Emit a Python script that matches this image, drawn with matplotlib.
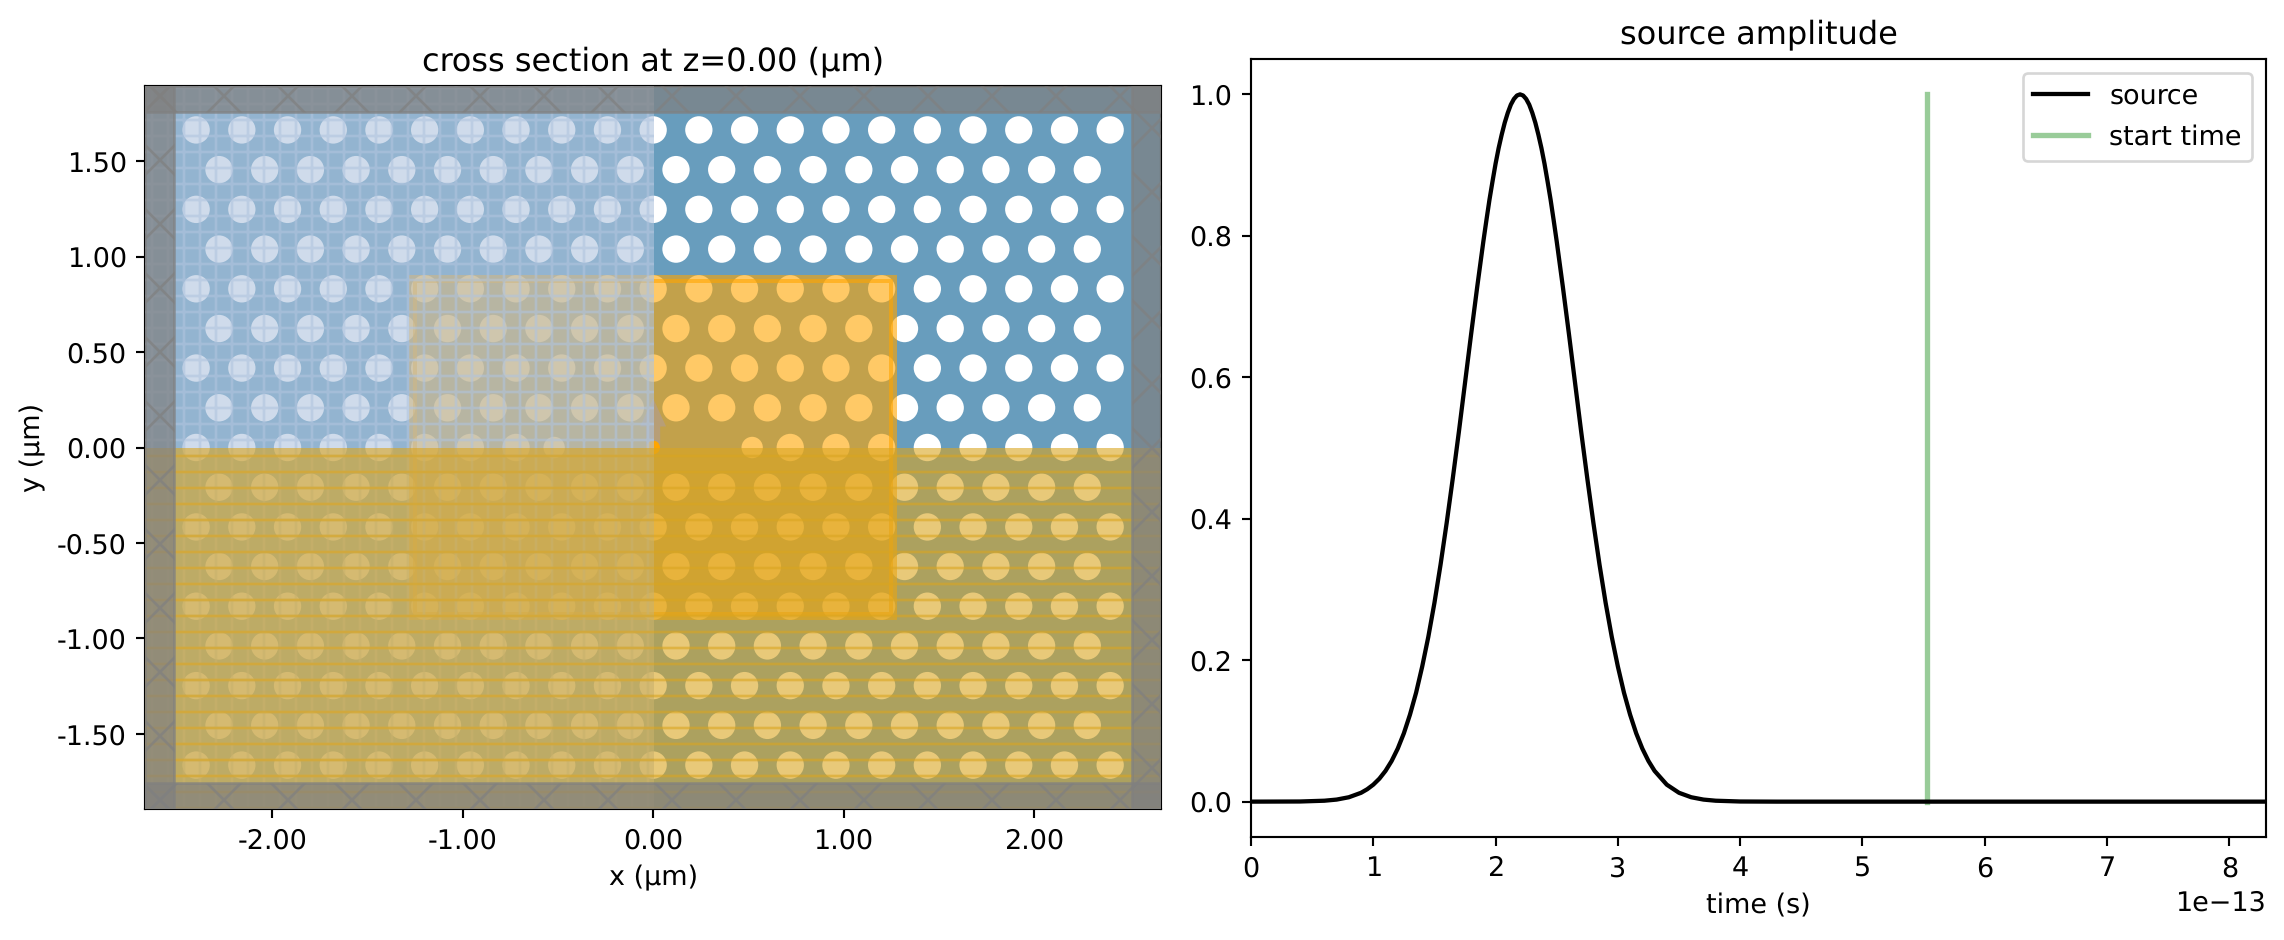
import matplotlib
matplotlib.use('Agg')
import matplotlib.pyplot as plt
from matplotlib.patches import Circle, Rectangle, FancyArrow
from matplotlib.ticker import FormatStrFormatter

W, H = 2284, 940
DPI = 192

plt.rcParams['text.hinting'] = 'no_hinting'
plt.rcParams['text.hinting_factor'] = 1

# photonic crystal lattice, in um
row_y = [1.663, 1.455, 1.247, 1.039, 0.831, 0.623, 0.416, 0.208, 0.0,
         -0.208, -0.416, -0.623, -0.831, -1.039, -1.247, -1.455, -1.663]
even_x = [-2.4, -2.16, -1.92, -1.68, -1.44, -1.2, -0.96, -0.72, -0.48, -0.24, 0.0,
          0.24, 0.48, 0.72, 0.96, 1.2, 1.44, 1.68, 1.92, 2.16, 2.4]
odd_x = [-2.28, -2.04, -1.8, -1.56, -1.32, -1.08, -0.84, -0.6, -0.36, -0.12,
         0.12, 0.36, 0.6, 0.84, 1.08, 1.32, 1.56, 1.8, 2.04, 2.28]
cavity_x = [-2.4, -2.16, -1.92, -1.68, -1.44, -1.2, -0.96, -0.72,
            0.72, 0.96, 1.2, 1.44, 1.68, 1.92, 2.16, 2.4]
small_x = [-0.52, 0.52]
hole_r = 0.0717
small_r = 0.056

sim_x = 2.667
sim_y = 1.893
pml_x = 2.515
pml_y = 1.755
mon_x = 1.26
mon_y = 0.88
sym_edge = 0.006

# source time trace, time in units of 1e-13 s
time = [0.0, 0.4, 0.6, 0.7, 0.8, 0.9, 0.95, 1.0, 1.05, 1.1, 1.15, 1.2, 1.25, 1.3, 1.35, 1.4,
        1.45, 1.5, 1.55, 1.6, 1.65, 1.7, 1.75, 1.8, 1.85, 1.9, 1.925, 1.95, 1.975, 2.0, 2.025,
        2.05, 2.075, 2.1, 2.125, 2.15, 2.175, 2.2, 2.225, 2.25, 2.275, 2.3, 2.325, 2.35, 2.375,
        2.4, 2.425, 2.45, 2.475, 2.5, 2.55, 2.6, 2.65, 2.7, 2.75, 2.8,
        2.85, 2.9, 2.95, 3.0, 3.05, 3.1, 3.15, 3.2, 3.25, 3.3, 3.4, 3.5, 3.6, 3.7,
        3.8, 4.0, 4.3, 8.3]
amp = [0.0, 0.0002, 0.0013, 0.0029, 0.0062, 0.0125, 0.0175, 0.024, 0.0325, 0.0435, 0.0575,
       0.075, 0.0966, 0.123, 0.154, 0.191, 0.233, 0.281, 0.335, 0.394, 0.457, 0.523,
       0.592, 0.661, 0.728, 0.792, 0.822, 0.851, 0.877, 0.902, 0.924, 0.943, 0.96, 0.974,
       0.9855, 0.9935, 0.9984, 1.0, 0.9984, 0.9935, 0.9855, 0.974, 0.96, 0.943, 0.924,
       0.902, 0.877, 0.851, 0.822, 0.792, 0.728, 0.661, 0.592, 0.523, 0.457, 0.394,
       0.335, 0.281, 0.233, 0.191, 0.154, 0.123, 0.0966, 0.075, 0.0575, 0.0435, 0.024,
       0.0125, 0.0062, 0.0029, 0.0013, 0.0002, 0.0, 0.0]
start_time = [5.53, 5.53]
start_amp = [0.0, 1.0]

fig = plt.figure(figsize=(W / DPI, H / DPI), dpi=DPI)


def axes_px(left, top, right, bottom):
    return fig.add_axes([left / W, 1 - bottom / H, (right - left) / W, (bottom - top) / H])


# left panel
ax = axes_px(145.3, 86, 1161, 809)
ax.add_patch(Rectangle((-sim_x, -sim_y), 2 * sim_x, 2 * sim_y, fc='#689DBD', lw=0, zorder=1))
for i, y in enumerate(row_y):
    if y == 0.0:
        xs = cavity_x
    elif i % 2 == 0:
        xs = even_x
    else:
        xs = odd_x
    for x in xs:
        ax.add_patch(Circle((x, y), hole_r, fc='white', lw=0, zorder=1.5))
for x in small_x:
    ax.add_patch(Circle((x, 0.0), small_r, fc='white', lw=0, zorder=1.5))

# monitor
ax.add_patch(Rectangle((-mon_x, -mon_y), 2 * mon_x, 2 * mon_y, fc='orange', ec='orange',
                       alpha=0.6, lw=3, zorder=2))
# source
ax.add_patch(FancyArrow(0, 0, 0, 0.257, width=0.074, head_width=0.136, head_length=0.147,
                        length_includes_head=True, fc='#A79BBA', ec='none', alpha=0.4, zorder=3))
ax.add_patch(Circle((0, 0), 0.036, fc='orange', lw=0, zorder=3))

# symmetry regions
ax.add_patch(Rectangle((-sim_x, -sim_y), sim_x + sym_edge, 2 * sim_y, fc='lightsteelblue', ec='lightsteelblue',
                       alpha=0.6, lw=0, hatch='++', zorder=4))
ax.add_patch(Rectangle((-sim_x, -sim_y), 2 * sim_x, sim_y, fc='goldenrod', ec='goldenrod',
                       alpha=0.6, lw=0, hatch='--', zorder=4.5))

# pml strips
pml_boxes = [(-sim_x, -sim_y, sim_x - pml_x, 2 * sim_y),
             (pml_x, -sim_y, sim_x - pml_x, 2 * sim_y),
             (-sim_x, pml_y, 2 * sim_x, sim_y - pml_y),
             (-sim_x, -sim_y, 2 * sim_x, sim_y - pml_y)]
for bx, by, bw, bh in pml_boxes:
    ax.add_patch(Rectangle((bx, by), bw, bh, fc='gray', ec='gray', alpha=0.7, lw=1, hatch='x', zorder=5))

ax.set_xlim(-sim_x, sim_x)
ax.set_ylim(-sim_y, sim_y)
ax.set_xticks([-2, -1, 0, 1, 2])
ax.set_yticks([-1.5, -1, -0.5, 0, 0.5, 1, 1.5])
ax.xaxis.set_major_formatter(FormatStrFormatter('%.2f'))
ax.yaxis.set_major_formatter(FormatStrFormatter('%.2f'))
ax.set_xlabel('x (μm)')
ax.set_ylabel('y (μm)')
ax.set_title('cross section at z=0.00 (μm)')

# right panel
ax2 = axes_px(1251, 59, 2266, 837)
ax2.plot([t * 1e-13 for t in time], amp, color='k', lw=1.6, label='source', zorder=3)
ax2.plot([t * 1e-13 for t in start_time], start_amp, color='green', alpha=0.4, lw=2,
         label='start time', zorder=2)
ax2.set_xlim(0, 8.3e-13)
ax2.set_ylim(-0.05, 1.05)
ax2.set_xticks([i * 1e-13 for i in range(9)])
ax2.set_xlabel('time (s)')
ax2.set_title('source amplitude')
ax2.legend(loc='upper right', fontsize=10.15, labelspacing=0.55, borderpad=0.4)

fig.savefig('out.png', dpi=DPI)
